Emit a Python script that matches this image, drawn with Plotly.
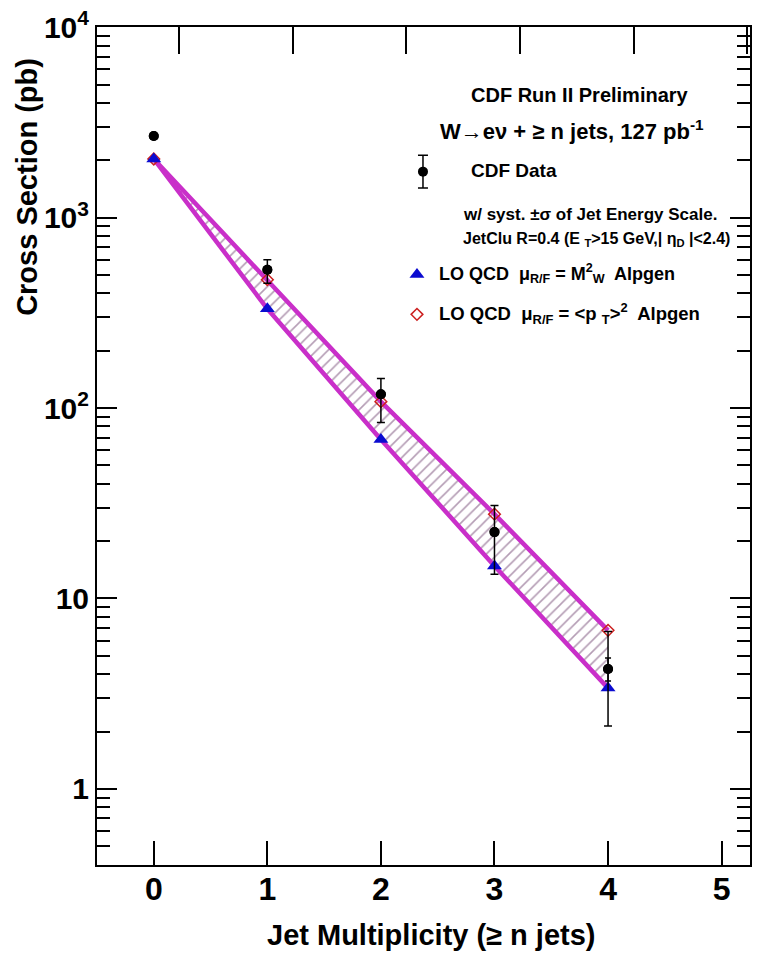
import plotly.graph_objects as go

# ---------------- data ----------------
n_jets = [0, 1, 2, 3, 4]
cdf_data = [2684, 532, 118, 22.3, 4.26]
syst_up = [0, 68, 25, 8.5, 2.44]
syst_down = [0, 80, 34, 8.9, 2.12]
stat_up = [0, 0, 0, 0, 0.60]
stat_down = [0, 0, 0, 0, 0.58]
lo_qcd_mw = [2032, 332, 68.4, 14.8, 3.38]      # mu = M_W^2 (triangles, lower band edge)
lo_qcd_pt = [2032, 472, 108, 27.7, 6.8]        # mu = <pT>^2 (diamonds, upper band edge)

x_ticks = [0, 1, 2, 3, 4, 5]
y_major = [1, 10, 100, 1000, 10000]
y_major_text = ["1", "10", "10<sup>2</sup>", "10<sup>3</sup>", "10<sup>4</sup>"]
y_minor = [m * 10 ** k for k in range(-1, 4) for m in range(2, 10)]

MAG = "#c92fc9"
HATCH = "#6a3a6a"
FONT = "Liberation Sans, Arial, Helvetica"

fig = go.Figure()

# hatched band between the two LO predictions
fig.add_trace(go.Scatter(
    x=n_jets + n_jets[::-1], y=lo_qcd_pt + lo_qcd_mw[::-1],
    fill="toself", mode="lines", line=dict(width=0, color=MAG),
    fillcolor="white",
    fillpattern=dict(shape="/", fgcolor=HATCH, bgcolor="white", size=8, solidity=0.2),
    hoverinfo="skip", showlegend=False))
fig.add_trace(go.Scatter(x=n_jets, y=lo_qcd_pt, mode="lines",
                         line=dict(color=MAG, width=4.5), showlegend=False, hoverinfo="skip"))
fig.add_trace(go.Scatter(x=n_jets, y=lo_qcd_mw, mode="lines",
                         line=dict(color=MAG, width=4.5), showlegend=False, hoverinfo="skip"))

# LO QCD markers
fig.add_trace(go.Scatter(x=n_jets, y=lo_qcd_pt, mode="markers",
                         marker=dict(symbol="diamond-open", size=9, color="#cc2020",
                                     line=dict(width=1.5, color="#cc2020")),
                         showlegend=False))
fig.add_trace(go.Scatter(x=n_jets, y=lo_qcd_mw, mode="markers",
                         marker=dict(symbol="triangle-up", size=13, color="#0b0bd0"),
                         showlegend=False))

# CDF data: syst errors and stat errors
fig.add_trace(go.Scatter(x=n_jets, y=cdf_data, mode="markers",
                         marker=dict(symbol="circle", size=10, color="black"),
                         error_y=dict(type="data", symmetric=False, array=syst_up,
                                      arrayminus=syst_down, color="black", thickness=1.5, width=4),
                         showlegend=False))
fig.add_trace(go.Scatter(x=n_jets, y=cdf_data, mode="markers",
                         marker=dict(symbol="circle", size=10, color="black"),
                         error_y=dict(type="data", symmetric=False, array=stat_up,
                                      arrayminus=stat_down, color="black", thickness=1.5, width=3),
                         showlegend=False))

# dummy on the top axis (shifted top ticks as in the reference scan)
fig.add_trace(go.Scatter(x=n_jets, y=cdf_data, xaxis="x2", yaxis="y", mode="markers",
                         marker=dict(opacity=0), hoverinfo="skip", showlegend=False))

# legend symbols on an overlay axis in plot-fraction units
fig.add_trace(go.Scatter(x=[0.4992], y=[0.8274], xaxis="x3", yaxis="y3", mode="markers",
                         marker=dict(symbol="circle", size=10, color="black"),
                         error_y=dict(type="constant", value=0.0196, color="black",
                                      thickness=1.5, width=5),
                         showlegend=False, hoverinfo="skip"))
fig.add_trace(go.Scatter(x=[0.490], y=[0.7048], xaxis="x3", yaxis="y3", mode="markers",
                         marker=dict(symbol="triangle-up", size=13, color="#0b0bd0"),
                         showlegend=False, hoverinfo="skip"))
fig.add_trace(go.Scatter(x=[0.490], y=[0.6571], xaxis="x3", yaxis="y3", mode="markers",
                         marker=dict(symbol="diamond-open", size=9, color="#cc2020",
                                     line=dict(width=1.5, color="#cc2020")),
                         showlegend=False, hoverinfo="skip"))

xtickfont = dict(family=FONT, size=32, color="black", weight="bold")
ytickfont = dict(family=FONT, size=30, color="black", weight="bold")

fig.update_layout(
    width=758, height=955,
    margin=dict(l=97, r=6, t=25, b=90),
    paper_bgcolor="white", plot_bgcolor="white",
    xaxis=dict(range=[-0.5, 5.25], tickvals=x_ticks, ticks="inside", ticklen=24,
               tickwidth=1.5, tickcolor="black", showline=True, linecolor="black",
               linewidth=2, mirror=True, showgrid=False, zeroline=False,
               tickfont=xtickfont, ticklabelstandoff=-5),
    xaxis2=dict(range=[-0.725, 5.025], overlaying="x", side="top", anchor="y",
                tickvals=x_ticks, ticks="inside", ticklen=27, tickwidth=1.5,
                tickcolor="black", showticklabels=False, showline=False,
                showgrid=False, zeroline=False),
    yaxis=dict(type="log", range=[-0.4, 4.001], tickvals=y_major, ticktext=y_major_text,
               ticks="inside", ticklen=20, tickwidth=1.5, tickcolor="black",
               showline=True, linecolor="black", linewidth=2, mirror="ticks",
               showgrid=False, zeroline=False, tickfont=ytickfont,
               minor=dict(tickmode="array", tickvals=y_minor, ticks="inside",
                          ticklen=13, tickwidth=1.5, tickcolor="black", showgrid=False)),
    xaxis3=dict(range=[0, 1], overlaying="x", anchor="y3", visible=False),
    yaxis3=dict(range=[0, 1], overlaying="y", anchor="x3", visible=False),
)

ann = []
def add_text(x, y, text, size, xanchor="left", weight="bold", angle=0):
    ann.append(dict(x=x, y=y, xref="paper", yref="paper", text=text, showarrow=False,
                    xanchor=xanchor, yanchor="middle", textangle=angle,
                    font=dict(family=FONT, size=size, color="black", weight=weight)))

add_text(0.569, 0.919, "CDF Run II Preliminary", 20)
add_text(0.522, 0.877, "W→eν + ≥ n jets, 127 pb<sup>-1</sup>", 22)
add_text(0.569, 0.8286, "CDF Data", 19)
add_text(0.557, 0.776, "w/ syst. ±σ of Jet Energy Scale.", 17)
add_text(0.557, 0.746, "JetClu R=0.4 (E <sub>T</sub>>15 GeV,| η<sub>D</sub> |<2.4)", 16)
add_text(0.5206, 0.706, "LO QCD  μ<sub>R/F</sub> = M<sup>2</sup><sub>W</sub>  Alpgen", 18)
add_text(0.5206, 0.658, "LO QCD  μ<sub>R/F</sub> = &lt;p <sub>T</sub>&gt;<sup>2</sup>  Alpgen", 18.5)
add_text(0.5115, -0.0833, "Jet Multiplicity (≥ n jets)", 29, xanchor="center")
add_text(-0.1084, 0.8095, "Cross Section (pb)", 29, xanchor="center", angle=-90)
fig.update_layout(annotations=ann)

fig.write_html("out.html", config={"displayModeBar": False},
               post_script="document.body.style.margin='0';")
